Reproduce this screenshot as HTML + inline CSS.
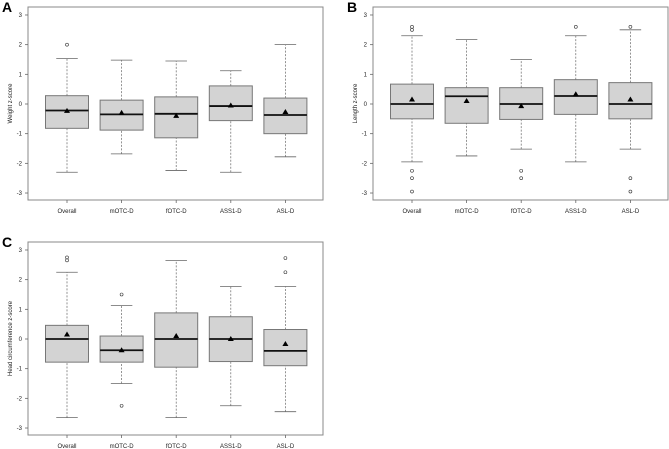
<!DOCTYPE html>
<html><head><meta charset="utf-8"><style>
html,body{margin:0;padding:0;background:#fff;}
svg{display:block;font-family:"Liberation Sans",Arial,sans-serif;}
</style></head><body>
<svg id="fig" width="669" height="449" viewBox="0 0 669 449" xmlns="http://www.w3.org/2000/svg"></svg>
<script>
const categories = ["Overall","mOTC-D","fOTC-D","ASS1-D","ASL-D"];
const yTicks = [-3,-2,-1,0,1,2,3];
// [lowWhisker, q1, median, q3, highWhisker]
const weightStats = [[-2.3,-0.82,-0.22,0.28,1.53],[-1.68,-0.88,-0.35,0.13,1.48],[-2.24,-1.14,-0.33,0.24,1.45],[-2.3,-0.56,-0.07,0.61,1.12],[-1.78,-1.0,-0.37,0.2,2.0]];
const weightMeans = [-0.23,-0.3,-0.4,-0.05,-0.27];
const weightOutliers = [[2.0],[],[],[],[]];
const lengthStats = [[-1.95,-0.5,0,0.67,2.3],[-1.75,-0.65,0.26,0.55,2.17],[-1.52,-0.52,0,0.55,1.5],[-1.95,-0.35,0.27,0.82,2.3],[-1.52,-0.5,0,0.72,2.5]];
const lengthMeans = [0.15,0.1,-0.07,0.33,0.15];
const lengthOutliers = [[2.6,2.5,-2.25,-2.5,-2.95],[],[-2.25,-2.5],[2.6],[2.6,-2.5,-2.95]];
const headStats = [[-2.65,-0.78,0,0.46,2.25],[-1.5,-0.78,-0.38,0.1,1.13],[-2.65,-0.95,0,0.88,2.65],[-2.25,-0.76,0,0.75,1.77],[-2.45,-0.9,-0.4,0.32,1.77]];
const headMeans = [0.15,-0.38,0.1,0,-0.17];
const headOutliers = [[2.75,2.65],[1.5,-2.25],[],[],[2.25,2.73]];

const NS="http://www.w3.org/2000/svg";
const svg=document.getElementById('fig');
function mk(tag,attrs,parent){const e=document.createElementNS(NS,tag);for(const k in attrs)e.setAttribute(k,attrs[k]);parent.appendChild(e);return e;}

function panel(letter,ox,oy,yTitle,stats,means,outliers,key){
  const g=mk('g',{},svg);
  
  
  const L=ox+28,R=ox+323,T=oy+7,B=oy+200;
  const y0=oy+104, unit=29.67;
  const yS=v=>y0-v*unit;
  const x0=ox+67, step=54.6;
  const xS=i=>x0+i*step;
  const bw=43;
  const lt=mk('text',{x:ox+2,y:oy+12,'font-size':14,'font-weight':'bold',fill:'#000'},g);
  lt.textContent=letter;
  
  
  const fr=mk('rect',{x:L,y:T,width:R-L,height:B-T,fill:'none',stroke:'#888','stroke-width':1},g);
  
  
  yTicks.forEach(t=>{
    const y=yS(t);
    mk('line',{x1:L-3,x2:L,y1:y,y2:y,stroke:'#666','stroke-width':0.8},g);
    const tx=mk('text',{x:L-6,y:y+2,'font-size':6,'text-anchor':'end',fill:'#222'},g);
    tx.textContent=t;
    
    
  });
  const yt=mk('text',{x:0,y:0,'font-size':6,'text-anchor':'middle',fill:'#222',transform:`translate(${ox+12},${(T+B)/2}) rotate(-90)`},g);
  yt.textContent=yTitle;
  
  
  categories.forEach((c,i)=>{
    const x=xS(i), s=stats[i];
    mk('line',{x1:x,x2:x,y1:B,y2:B+3,stroke:'#666','stroke-width':0.8},g);
    const cl=mk('text',{x:x,y:B+13,'font-size':6,'text-anchor':'middle',fill:'#222'},g);
    cl.textContent=c;
    
    
    mk('line',{x1:x,x2:x,y1:yS(s[0]),y2:yS(s[1]),stroke:'#666','stroke-width':0.7,'stroke-dasharray':'2,1.5'},g);
    mk('line',{x1:x,x2:x,y1:yS(s[3]),y2:yS(s[4]),stroke:'#666','stroke-width':0.7,'stroke-dasharray':'2,1.5'},g);
    mk('line',{x1:x-bw/4,x2:x+bw/4,y1:yS(s[0]),y2:yS(s[0]),stroke:'#666','stroke-width':0.8},g);
    mk('line',{x1:x-bw/4,x2:x+bw/4,y1:yS(s[4]),y2:yS(s[4]),stroke:'#666','stroke-width':0.8},g);
    const bx=mk('rect',{x:x-bw/2,y:yS(s[3]),width:bw,height:yS(s[1])-yS(s[3]),fill:'#d3d3d3',stroke:'#777','stroke-width':1},g);
    
    
    mk('line',{x1:x-bw/2,x2:x+bw/2,y1:yS(s[2]),y2:yS(s[2]),stroke:'#111','stroke-width':1.8},g);
    const ym=yS(means[i]);
    const m=mk('polygon',{points:`${x},${ym-3} ${x-3},${ym+2} ${x+3},${ym+2}`,fill:'#000'},g);
    
    
    outliers[i].forEach(o=>{
      const oc=mk('circle',{cx:x,cy:yS(o),r:1.5,fill:'none',stroke:'#333','stroke-width':0.6},g);
      
      
    });
  });
}
panel('A',0,0,'Weight z-score',weightStats,weightMeans,weightOutliers,'weight');
panel('B',345,0,'Length z-score',lengthStats,lengthMeans,lengthOutliers,'length');
panel('C',0,235,'Head circumference z-score',headStats,headMeans,headOutliers,'head');
</script>
</body></html>
